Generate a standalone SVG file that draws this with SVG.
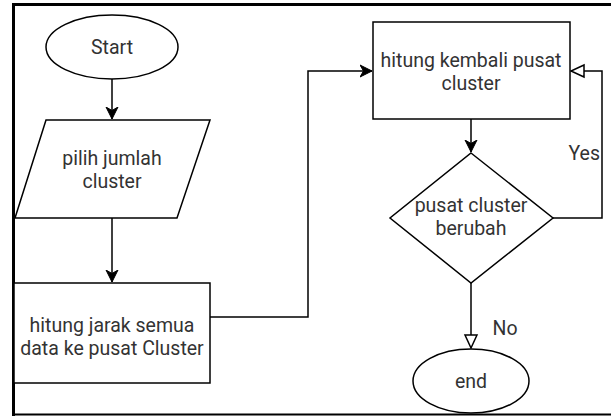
<svg xmlns="http://www.w3.org/2000/svg" width="611" height="416" viewBox="0 0 611 416">
<style>
.shape{fill:#ffffff;stroke:#000000;stroke-width:1.5}
.edge{fill:none;stroke:#000000;stroke-width:1.5}
.lbl{font-family:Roboto,"Liberation Sans",Arial,sans-serif;font-size:19.5px;fill:#333333;text-anchor:middle}
.frame{stroke:#000000;fill:none}
</style>
<defs>
<marker id="arrow" markerUnits="userSpaceOnUse" markerWidth="14" markerHeight="14" refX="12" refY="6" orient="auto" viewBox="0 0 14 12">
<path d="M0,0 L12,6 L0,12 L3.5,6 Z" fill="#000000" stroke="#000000" stroke-width="1"/>
</marker>
<marker id="open" markerUnits="userSpaceOnUse" markerWidth="16" markerHeight="16" refX="14" refY="7" orient="auto" viewBox="0 0 16 14">
<path d="M1,1 L14,7 L1,13 Z" fill="#ffffff" stroke="#000000" stroke-width="1.5"/>
</marker>
</defs>
<rect width="611" height="416" fill="#ffffff"/>
<g id="frame">
<line class="frame" x1="12" y1="4.5" x2="611" y2="4.5" stroke-width="3"/>
<line class="frame" x1="13.5" y1="3" x2="13.5" y2="416" stroke-width="3"/>
<line class="frame" x1="12" y1="414.5" x2="611" y2="414.5" stroke-width="2"/>
</g>
<g id="connectors">
<path class="edge" d="M112,79 L112,119" marker-end="url(#arrow)"/>
<path class="edge" d="M112,218 L112,282" marker-end="url(#arrow)"/>
<path class="edge" d="M210,317 L308,317 L308,71 L372,71" marker-end="url(#arrow)"/>
<path class="edge" d="M471,119 L471,152" marker-end="url(#arrow)"/>
<path class="edge" d="M553,218 L602,218 L602,71 L571,71" marker-end="url(#open)"/>
<path class="edge" d="M471,283 L471,348" marker-end="url(#open)"/>
<text class="lbl" x="600" y="160" style="text-anchor:end">Yes</text>
<text class="lbl" x="505" y="335">No</text>
</g>
<g id="start">
<ellipse class="shape" cx="112" cy="47" rx="66" ry="32"/>
<text class="lbl" x="112" y="54">Start</text>
</g>
<g id="pilih">
<polygon class="shape" points="46,120 210,120 177,218 15,218"/>
<text class="lbl" x="112" y="165">pilih jumlah</text>
<text class="lbl" x="112" y="188">cluster</text>
</g>
<g id="hitung-jarak">
<rect class="shape" x="14" y="283" width="196" height="100"/>
<text class="lbl" x="112" y="332">hitung jarak semua</text>
<text class="lbl" x="112" y="355">data ke pusat Cluster</text>
</g>
<g id="hitung-kembali">
<rect class="shape" x="373" y="22" width="197" height="97"/>
<text class="lbl" x="471" y="67">hitung kembali pusat</text>
<text class="lbl" x="471" y="90">cluster</text>
</g>
<g id="decision">
<polygon class="shape" points="471,153 553,218 471,283 390,218"/>
<text class="lbl" x="471" y="212">pusat cluster</text>
<text class="lbl" x="471" y="235">berubah</text>
</g>
<g id="end">
<ellipse class="shape" cx="471" cy="381" rx="58" ry="32"/>
<text class="lbl" x="471" y="388">end</text>
</g>
</svg>
